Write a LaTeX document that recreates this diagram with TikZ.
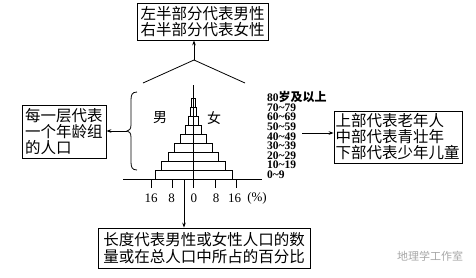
\documentclass[tikz,border=0pt]{standalone}
\usepackage{fontspec}
\setmainfont{Liberation Serif}
\newfontfamily\cjk{Noto Sans CJK SC}
\usetikzlibrary{arrows.meta}
\begin{document}
\begin{tikzpicture}[x=1pt,y=-1pt,
  box/.style={draw, line width=0.8pt, inner sep=0pt, font=\cjk\fontsize{15.5}{16}\selectfont},
  arr/.style={-{Stealth[length=5pt,width=3.6pt]}, line width=0.8pt},
  ln/.style={line width=0.8pt},
  agelab/.style={anchor=south west, inner sep=0pt, align=left, font=\bfseries\fontsize{11.5}{9.6}\selectfont},
  axlab/.style={inner sep=0pt, font=\fontsize{13}{13}\selectfont},
  sexlab/.style={inner sep=0pt, font=\cjk\fontsize{14}{14}\selectfont},
  wm/.style={inner sep=0pt, text=black!35, font=\cjk\fontsize{11}{11}\selectfont}]
\useasboundingbox (0,0) rectangle (476,277);

% boxes
\node[box, minimum width=131pt, minimum height=37pt, align=center] (topbox) at (202.5,21.5)
  {左半部分代表男性\\右半部分代表女性};
\node[box, minimum width=128pt, minimum height=52pt, text width=125pt, align=left] (rbox) at (398,137)
  {上部代表老年人\\中部代表青壮年\\下部代表少年儿童};
\node[box, minimum width=84pt, minimum height=53pt, text width=78pt, align=left] (lbox) at (64,131.5)
  {每一层代表\\一个年龄组\\的人口};
\node[box, minimum width=212pt, minimum height=40pt, align=center, font=\cjk\fontsize{15.5}{17}\selectfont] (bbox) at (204,248)
  {长度代表男性或女性人口的数\\量或在总人口中所占的百分比};

% pyramid bars
\foreach \i/\h in {0/38.5,1/32,2/25,3/19,4/13,5/8,6/5,7/3,8/2}{
  \draw[ln] (193.8-\h,179-9*\i) rectangle (193.8+\h,170-9*\i);
}
% axis and ticks
\draw[ln] (123,179) -- (262,179);
\foreach \x in {151,172,215,236}{ \draw[ln] (\x,179) -- (\x,188); }
\draw[ln] (193.8,85) -- (193.8,188);

% axis labels
\node[axlab] (t16l) at (151,198) {16};
\node[axlab] (t8l) at (171.5,198) {8};
\node[axlab] (t0) at (193.8,198) {0};
\node[axlab] (t8r) at (216,198) {8};
\node[axlab] (t16r) at (234.7,198) {16};
\node[axlab] (tpct) at (257,198) {(\%)};

% sex labels
\node[sexlab] (male) at (160,118) {男};
\node[sexlab] (female) at (214,118) {女};

% age labels
\node[agelab] (ages) at (267,178.8) {80{\cjk\fontsize{12}{9.6}\selectfont 岁及以上}\\
  70\textasciitilde 79\\60\textasciitilde 69\\50\textasciitilde 59\\40\textasciitilde 49\\
  30\textasciitilde 39\\20\textasciitilde 29\\10\textasciitilde 19\\0\textasciitilde 9};

% top connectors
\coordinate (apex) at (194,60);
\coordinate (ll) at (143,83);
\coordinate (lr) at (245,83);
\draw[ln] (ll) -- (apex) -- (lr);
\draw[arr] (apex) -- (apex |- topbox.south);

% brace
\coordinate (bt) at (127,131);
\draw[ln] (137,92) .. controls (132,92) and (131,95) .. (131,100) -- (131,125)
  .. controls (131,129) and (129,131) .. (bt)
  .. controls (129,131) and (131,133) .. (131,137) -- (131,162)
  .. controls (131,167) and (132,170) .. (137,170);
\draw[arr] (bt) -- (bt -| lbox.east);

% right arrow
\coordinate (ra) at (302,133);
\draw[arr] (ra) -- (ra -| rbox.west);

% bottom arrow
\coordinate (ba) at (184,179);
\draw[arr] (ba) -- (ba |- bbox.north);

% watermark
\node[wm] (wmark) at (430,256) {地理学工作室};
\end{tikzpicture}
\end{document}
